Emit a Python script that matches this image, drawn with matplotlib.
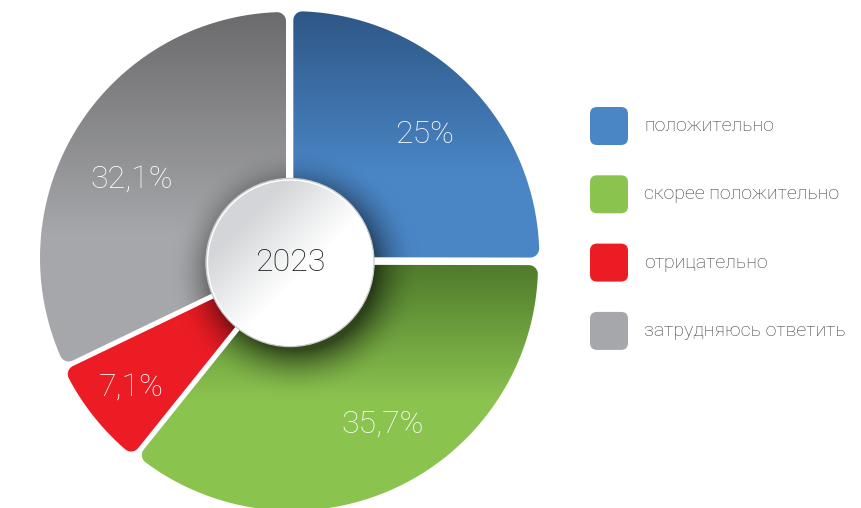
import numpy as np
import matplotlib.pyplot as plt
from matplotlib.patches import Polygon, Circle, FancyBboxPatch
from matplotlib.colors import to_rgb

categories = ['положительно', 'скорее положительно', 'отрицательно', 'затрудняюсь ответить']
shares = [25.0, 35.7, 7.1, 32.1]
pct_labels = ['25%', '35,7%', '7,1%', '32,1%']
year_label = '2023'

base_colors = ['#4a86c6', '#8bc34f', '#ec1c24', '#a6a7aa']
# (dark colour, image-y where dark, image-y where it reaches base)
grad_top = [('#2e5786', 12, 175), ('#4f7b2c', 265, 400), ('#ec1c24', 0, 1), ('#6b6b6d', 12, 235)]

W, H = 861, 508
CX, CY = 290, 260.5      # pie centre in image pixels (y down)
R = 246
HUB_R = 84
FONT = 'Roboto'
# label placement: fraction of radius and turn (deg) from the wedge bisector
label_dist = [0.75, 0.765, 0.825, 0.725]
label_turn = [-2, 4, 0, 5]


def rounded_sector(c, r, t1, t2, rc, n=40):
    """Sector polygon with rounded outer corners (angles in degrees)."""
    a1, a2 = np.radians(t1), np.radians(t2)
    delta = np.arcsin(rc / (r - rc))
    along = np.sqrt((r - rc) ** 2 - rc ** 2)
    cx, cy = c
    pts = [(cx, cy), (cx + along * np.cos(a1), cy + along * np.sin(a1))]
    f1 = (cx + (r - rc) * np.cos(a1 + delta), cy + (r - rc) * np.sin(a1 + delta))
    for a in np.linspace(a1 - np.pi / 2, a1 + delta, n // 3):
        pts.append((f1[0] + rc * np.cos(a), f1[1] + rc * np.sin(a)))
    for a in np.linspace(a1 + delta, a2 - delta, n * 3):
        pts.append((cx + r * np.cos(a), cy + r * np.sin(a)))
    f2 = (cx + (r - rc) * np.cos(a2 - delta), cy + (r - rc) * np.sin(a2 - delta))
    for a in np.linspace(a2 - delta, a2 + np.pi / 2, n // 3):
        pts.append((f2[0] + rc * np.cos(a), f2[1] + rc * np.sin(a)))
    pts.append((cx + along * np.cos(a2), cy + along * np.sin(a2)))
    return np.array(pts)


fig = plt.figure(figsize=(W / 100, H / 100), dpi=100)
ax = fig.add_axes([0, 0, 1, 1])

# explode is in data units (pixels here)
wedges, _ = ax.pie(shares, startangle=90, counterclock=False,
                   explode=[4.7] * len(shares), radius=R, center=(CX, H - CY))

# pixel grid (row 0 = top of the picture)
yy, xx = np.mgrid[0:H, 0:W] + 0.5
dist = np.hypot(xx - (CX + 6), yy - (CY + 12))
shadow = 0.55 * np.clip(1 - (dist - HUB_R + 6) / 48, 0, 1) ** 2

for i, (w, col, (dark, y0, y1)) in enumerate(zip(wedges, base_colors, grad_top)):
    w.set_visible(False)
    t = np.clip((yy - y0) / (y1 - y0), 0, 1)[..., None]
    img = np.array(to_rgb(dark)) * (1 - t) + np.array(to_rgb(col)) * t
    img = img * (1 - shadow[..., None])
    poly = Polygon(rounded_sector(w.center, w.r, w.theta1, w.theta2, 9),
                   closed=True, facecolor='none', edgecolor='none')
    ax.add_patch(poly)
    im = ax.imshow(img, extent=(0, W, 0, H), origin='upper', interpolation='bilinear', zorder=1)
    im.set_clip_path(poly)

    mid = np.radians((w.theta1 + w.theta2) / 2 + label_turn[i])
    ax.text(CX + label_dist[i] * R * np.cos(mid), H - CY + label_dist[i] * R * np.sin(mid), pct_labels[i],
            color='white', fontsize=23, family=FONT, fontweight='light',
            ha='center', va='center', zorder=5)

# centre hub
hx, hy = 290, H - 262.5
t = np.clip(((xx - hx) + (yy - 262.5)) / (1.3 * HUB_R) + 0.8, 0, 1)[..., None]
hub_img = np.array(to_rgb('#d3d5d8')) * (1 - t) + np.array(to_rgb('#ffffff')) * t
hub = Circle((hx, hy), HUB_R, facecolor='none', edgecolor='#c8c9cb', lw=1.0, zorder=4)
ax.add_patch(hub)
hub_im = ax.imshow(hub_img, extent=(0, W, 0, H), origin='upper', interpolation='bilinear', zorder=3)
hub_im.set_clip_path(hub)
ax.add_patch(Circle((hx, hy), HUB_R - 1.5, facecolor='none', edgecolor='white', lw=1.0, zorder=4))
ax.text(hx, hy, year_label, color='#1e1e1e', fontsize=23, family=FONT, fontweight='light',
        ha='center', va='center', zorder=5)

# legend
for i, (name, col) in enumerate(zip(categories, base_colors)):
    yc = H - (126 + i * 68.3)
    ax.add_patch(FancyBboxPatch((590, yc - 19), 38, 38, boxstyle='round,pad=0,rounding_size=7',
                                facecolor=col, edgecolor='none', zorder=2))
    ax.text(644, yc, name, color='#3a3a3a', fontsize=14, family=FONT, fontweight='light',
            ha='left', va='center', zorder=2)

ax.set_xlim(0, W)
ax.set_ylim(0, H)
ax.set_aspect('auto')
ax.axis('off')

fig.savefig('out.png', dpi=100)
